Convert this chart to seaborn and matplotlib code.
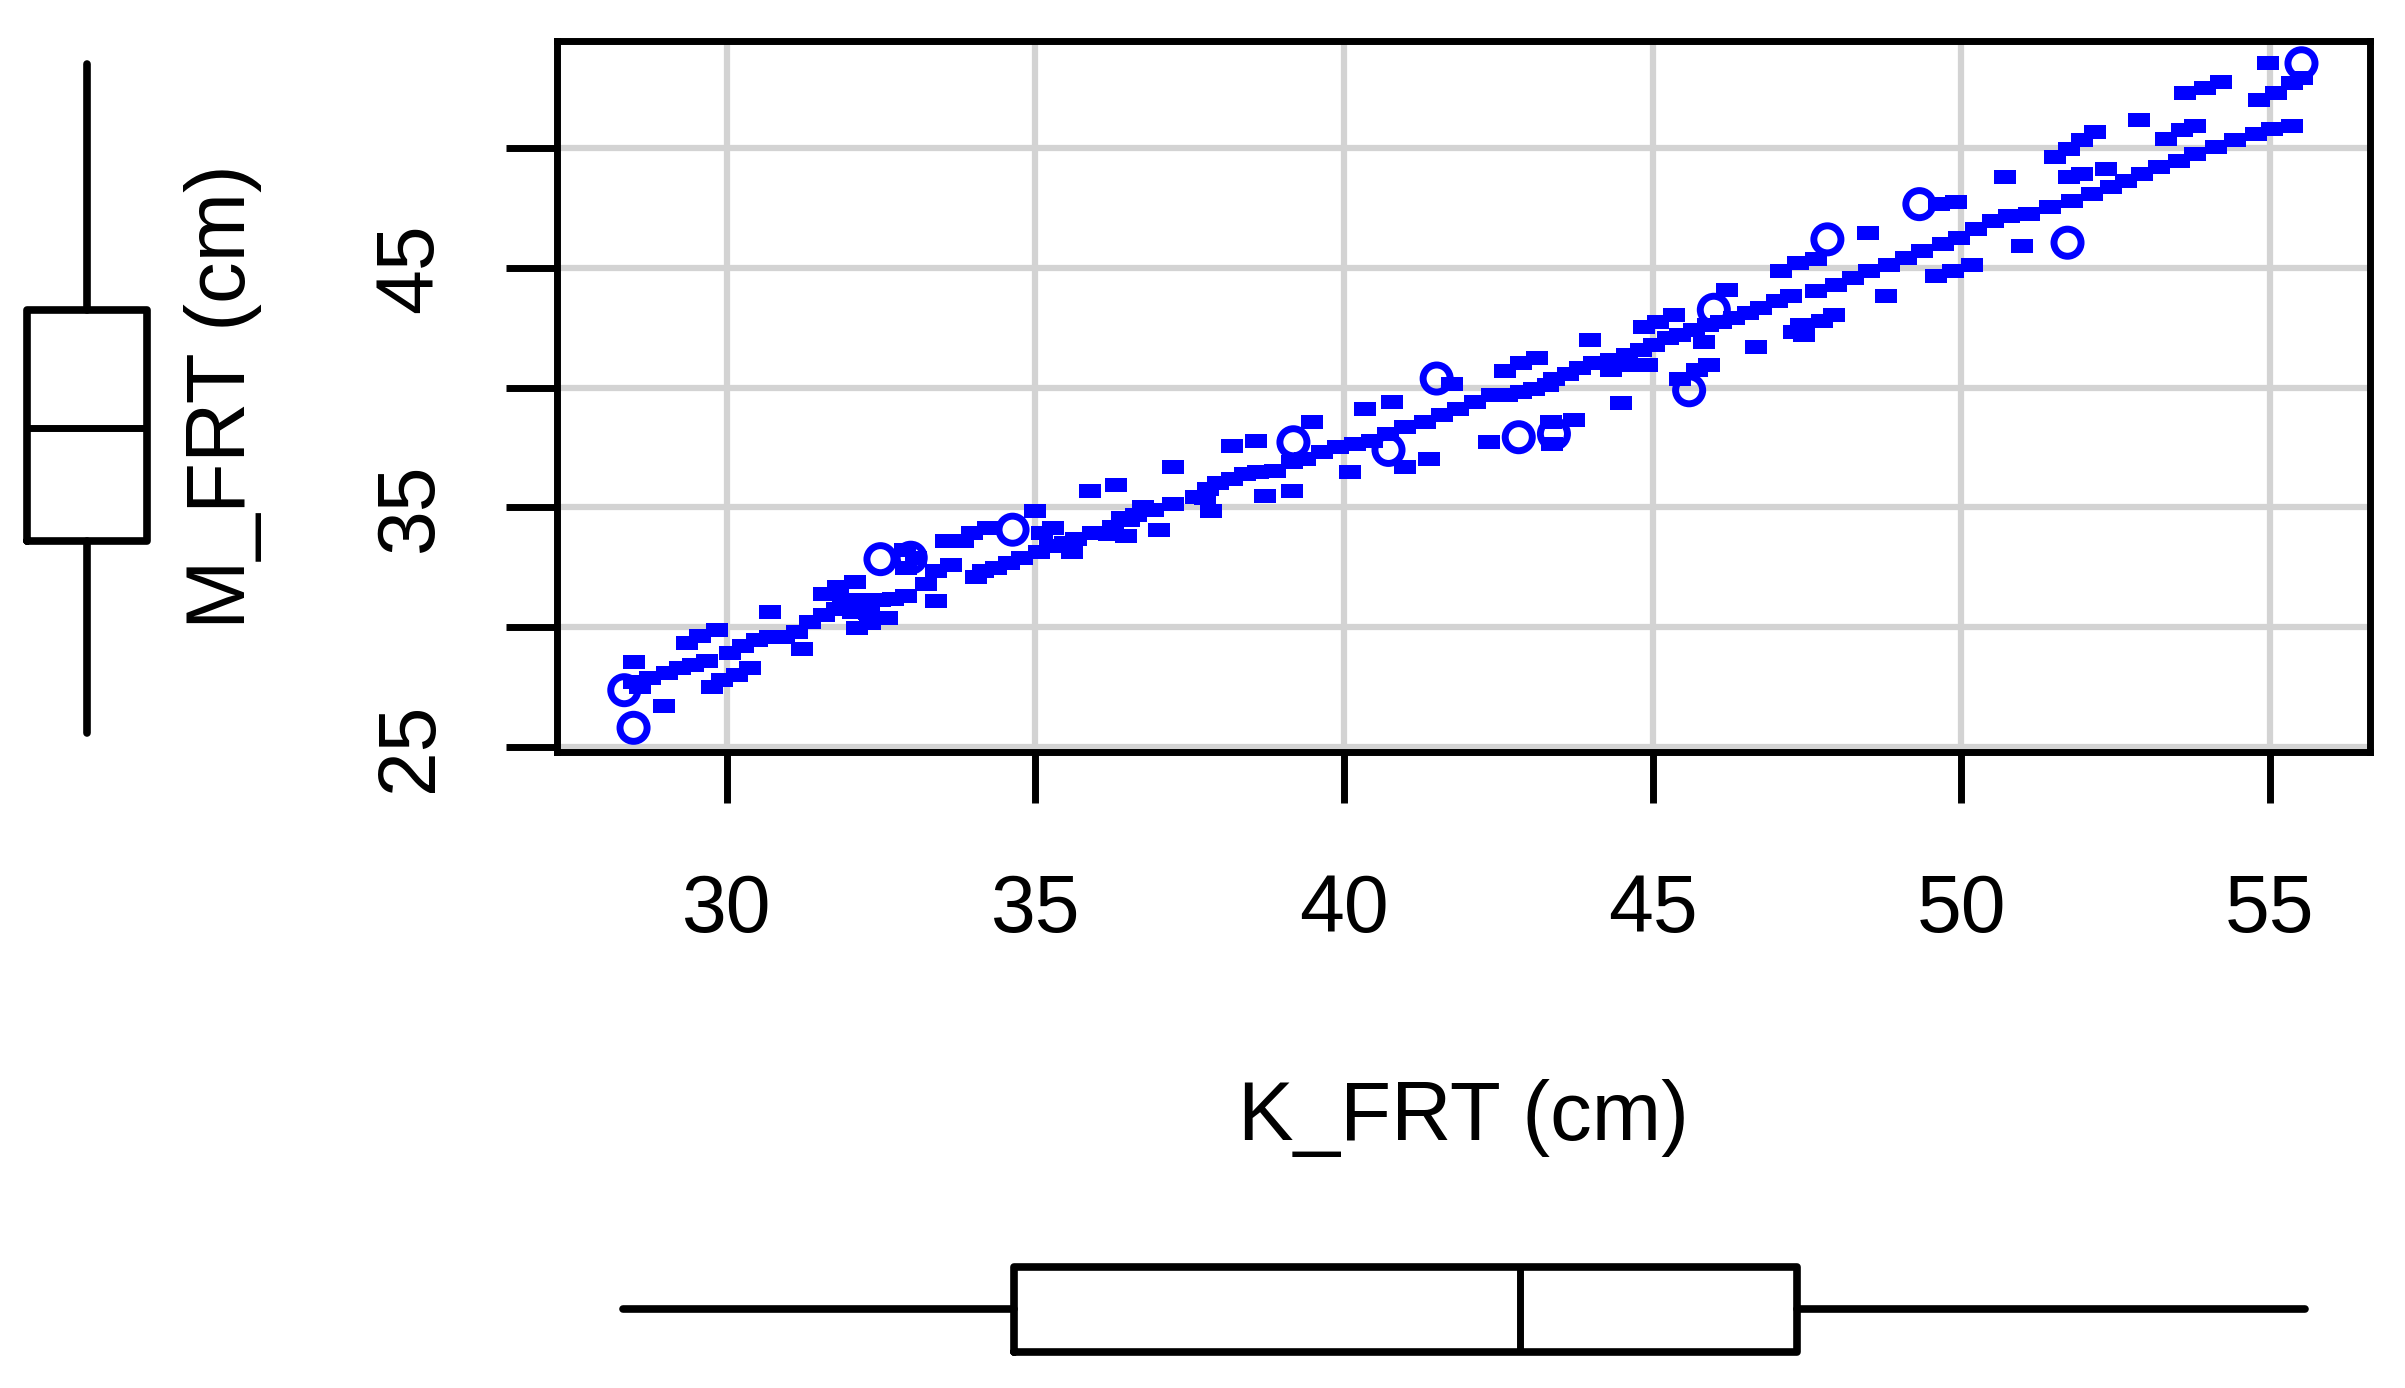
import matplotlib
matplotlib.use("Agg")
import matplotlib.pyplot as plt
import seaborn as sns
from matplotlib.path import Path
from matplotlib.markers import MarkerStyle

# --- data (K_FRT vs M_FRT, cm) ---
k_frt = [28.49, 28.98, 28.49, 28.59, 28.76, 29.03, 29.24, 29.46, 29.68, 29.35, 29.57, 29.84,
         29.76, 29.92, 30.16, 30.38, 30.05, 30.27, 30.49, 30.70, 30.92, 30.70, 31.22, 31.14,
         31.35, 31.57, 31.78, 32.05, 32.11, 32.32, 32.59, 31.57, 31.81, 32.08, 31.89, 32.16,
         32.49, 32.70, 32.30,
         32.88, 32.90, 32.90, 33.06, 33.23, 33.39, 33.39, 33.63, 33.55, 33.82, 34.04, 34.15,
         34.36, 33.98, 34.23, 34.58, 34.79, 35.00, 35.10, 35.28, 35.06, 35.23, 35.60, 35.48,
         35.66, 35.93, 36.25, 36.52, 36.74, 36.47, 37.01, 36.63, 36.20, 36.90, 36.40, 35.88,
         36.31, 37.23, 37.23, 37.60,
         37.75, 37.80, 37.96, 38.18, 38.39, 38.61, 38.88, 39.15, 39.37, 39.64, 39.91, 40.18,
         40.45, 40.72, 40.99, 41.31, 41.58, 41.85, 42.12, 42.39, 37.85, 38.72, 39.15, 40.10,
         40.99, 41.37, 42.34, 38.18, 38.58, 39.48, 40.34, 40.77, 41.75,
         42.60, 42.64, 42.86, 43.08, 43.30, 43.40, 43.62, 43.83, 44.05, 44.32, 44.59, 44.81,
         45.02, 45.24, 45.45, 45.67, 45.89, 46.10, 46.32, 46.54, 46.75, 47.02, 47.24, 44.32,
         44.64, 44.91, 42.86, 43.13, 43.99, 44.86, 45.08, 45.35, 46.21, 45.83, 46.67, 47.40,
         47.29, 47.45, 44.48, 45.45, 45.72, 45.91, 43.35, 43.72, 43.37, 47.08, 47.35,
         47.75, 47.94, 47.64, 47.97, 48.24, 48.51, 48.83, 49.10, 49.37, 49.70, 49.97, 50.24,
         50.51, 50.78, 51.10, 51.43, 48.78, 49.59, 49.86, 50.18, 50.99, 47.64, 48.48, 49.64,
         49.91, 50.70,
         51.79, 52.12, 52.42, 52.66, 52.93, 53.20, 53.52, 53.79, 54.12, 54.44, 54.77, 55.04,
         55.36, 51.52, 51.74, 51.96, 52.17, 51.74, 51.96, 52.34, 52.88, 53.31, 53.58, 53.79,
         53.63, 53.95, 54.20, 54.82, 55.09, 55.36, 55.52, 54.96]
m_frt = [28.53, 26.72, 27.72, 27.51, 27.86, 28.07, 28.28, 28.42, 28.59, 29.33, 29.62, 29.89,
         27.51, 27.79, 28.00, 28.31, 28.93, 29.20, 29.47, 29.60, 29.60, 30.62, 29.08, 29.82,
         30.20, 30.51, 30.78, 30.64, 29.96, 30.16, 30.37, 31.40, 31.67, 31.90, 31.12, 31.12,
         31.12, 31.19, 30.60,
         33.21, 32.48, 31.29, 32.88, 31.80, 31.09, 32.35, 32.60, 33.60, 33.60, 32.08, 32.35,
         32.48, 33.94, 34.16, 32.68, 32.88, 34.86, 33.94, 34.14, 33.14, 33.40, 33.14, 33.50,
         33.67, 33.94, 34.20, 34.47, 35.00, 33.81, 34.07, 34.67, 33.90, 34.90, 34.55, 35.70,
         35.92, 36.69, 35.14, 35.42,
         35.40, 35.76, 36.04, 36.18, 36.39, 36.46, 36.53, 36.88, 37.02, 37.30, 37.51, 37.65,
         37.79, 38.07, 38.35, 38.56, 38.84, 39.12, 39.40, 39.68, 34.85, 35.48, 35.69, 36.46,
         36.67, 37.02, 37.72, 37.58, 37.79, 38.56, 39.12, 39.40, 40.17,
         40.70, 39.68, 39.82, 39.96, 40.10, 40.38, 40.59, 40.80, 41.01, 41.15, 41.36, 41.57,
         41.78, 42.06, 42.20, 42.41, 42.62, 42.76, 42.90, 43.11, 43.32, 43.60, 43.81, 40.73,
         40.94, 40.94, 41.01, 41.22, 41.99, 42.55, 42.76, 43.04, 44.09, 41.92, 41.71, 42.62,
         42.34, 42.20, 39.36, 40.38, 40.73, 40.94, 38.56, 38.63, 37.65, 44.86, 45.21,
         42.80, 43.04, 44.02, 44.30, 44.58, 44.86, 45.14, 45.42, 45.70, 45.98, 46.26, 46.61,
         46.96, 47.17, 47.24, 47.52, 43.81, 44.65, 44.86, 45.14, 45.91, 45.35, 46.47, 47.66,
         47.77, 48.81,
         47.80, 48.08, 48.36, 48.64, 48.92, 49.20, 49.48, 49.76, 50.04, 50.32, 50.60, 50.81,
         50.91, 49.62, 49.97, 50.32, 50.67, 48.78, 48.92, 49.13, 51.19, 50.39, 50.74, 50.91,
         52.28, 52.49, 52.77, 52.00, 52.28, 52.70, 52.91, 53.54]

# points drawn as open circles
k_frt_open = [28.49, 28.34, 32.49, 32.98, 34.63, 39.18, 40.72, 41.50, 42.83, 43.40,
              45.59, 45.99, 47.83, 49.32, 51.72, 55.51]
m_frt_open = [25.80, 27.37, 32.84, 32.90, 34.07, 37.72, 37.40, 40.38, 37.93, 38.07,
              39.89, 43.25, 46.19, 47.66, 46.05, 53.54]

# marginal boxplots: lower whisker, Q1, median, Q3, upper whisker
k_box = [28.32, 34.65, 42.85, 47.33, 55.57]
m_box = [25.58, 33.60, 38.31, 43.24, 53.50]

x_ticks = [30, 35, 40, 45, 50, 55]
x_tick_labels = ["30", "35", "40", "45", "50", "55"]
y_ticks = [25, 30, 35, 40, 45, 50]
y_tick_labels = ["25", "", "35", "", "45", ""]

BLUE = "#0000FF"
W, H = 2405, 1388
XLIM = (27.25, 56.62)
YLIM = (24.79, 54.47)

sns.set_theme(style="white")
plt.rcParams["font.family"] = ["Liberation Sans", "DejaVu Sans"]

fig = plt.figure(figsize=(W / 100, H / 100), dpi=100)
ax = fig.add_axes([557 / W, 1 - 752 / H, 1813 / W, 711 / H])

# small wide rectangles, like the low-res R points
rect = Path([(-1.5, -1), (1.5, -1), (1.5, 1), (-1.5, 1), (-1.5, -1)],
            [Path.MOVETO, Path.LINETO, Path.LINETO, Path.LINETO, Path.CLOSEPOLY])
sns.scatterplot(x=k_frt, y=m_frt, marker=MarkerStyle(rect), s=260, color=BLUE,
                linewidth=0, ax=ax, zorder=3)
sns.scatterplot(x=k_frt_open, y=m_frt_open, marker="o", s=380, color="none",
                edgecolor=BLUE, linewidth=5, ax=ax, zorder=3)

ax.set_xlim(*XLIM)
ax.set_ylim(*YLIM)
ax.set_xticks(x_ticks)
ax.set_xticklabels(x_tick_labels)
ax.set_yticks(y_ticks)
ax.set_yticklabels(y_tick_labels)
ax.grid(True, color="#D3D3D3", linewidth=4.5)
ax.set_axisbelow(True)
for sp in ax.spines.values():
    sp.set_visible(True)
    sp.set_color("black")
    sp.set_linewidth(5)
ax.tick_params(axis="both", direction="out", length=37, width=5, color="black",
               labelsize=58, labelcolor="black", bottom=True, left=True)
ax.tick_params(axis="x", pad=50)
ax.tick_params(axis="y", pad=41, labelrotation=90)
for lab in ax.get_yticklabels():
    lab.set_va("center")

ax.set_xlabel("K_FRT (cm)", fontsize=60, color="black")
ax.set_ylabel("M_FRT (cm)", fontsize=60, color="black")
ax.xaxis.set_label_coords(0.5, (752 - 1079) / 711)
ax.yaxis.set_label_coords((262 - 557) / 1813, 0.5)

box_kw = dict(showcaps=False, showfliers=False, manage_ticks=False,
              boxprops=dict(color="black", linewidth=5.5),
              whiskerprops=dict(color="black", linewidth=5.5),
              medianprops=dict(color="black", linewidth=5))

# left marginal boxplot (M_FRT)
axl = fig.add_axes([0, 1 - 752 / H, 178 / W, 711 / H])
axl.set_xlim(0, 178)
axl.set_ylim(*YLIM)
axl.bxp([dict(whislo=m_box[0], q1=m_box[1], med=m_box[2], q3=m_box[3],
              whishi=m_box[4], fliers=[])],
        positions=[87], widths=120, orientation="vertical", **box_kw)
axl.axis("off")

# bottom marginal boxplot (K_FRT)
axb = fig.add_axes([557 / W, 0, 1813 / W, 160 / H])
axb.set_xlim(*XLIM)
axb.set_ylim(0, 160)
axb.bxp([dict(whislo=k_box[0], q1=k_box[1], med=k_box[2], q3=k_box[3],
              whishi=k_box[4], fliers=[])],
        positions=[79], widths=85, orientation="horizontal", **box_kw)
axb.axis("off")

fig.savefig("out.png", dpi=100)
